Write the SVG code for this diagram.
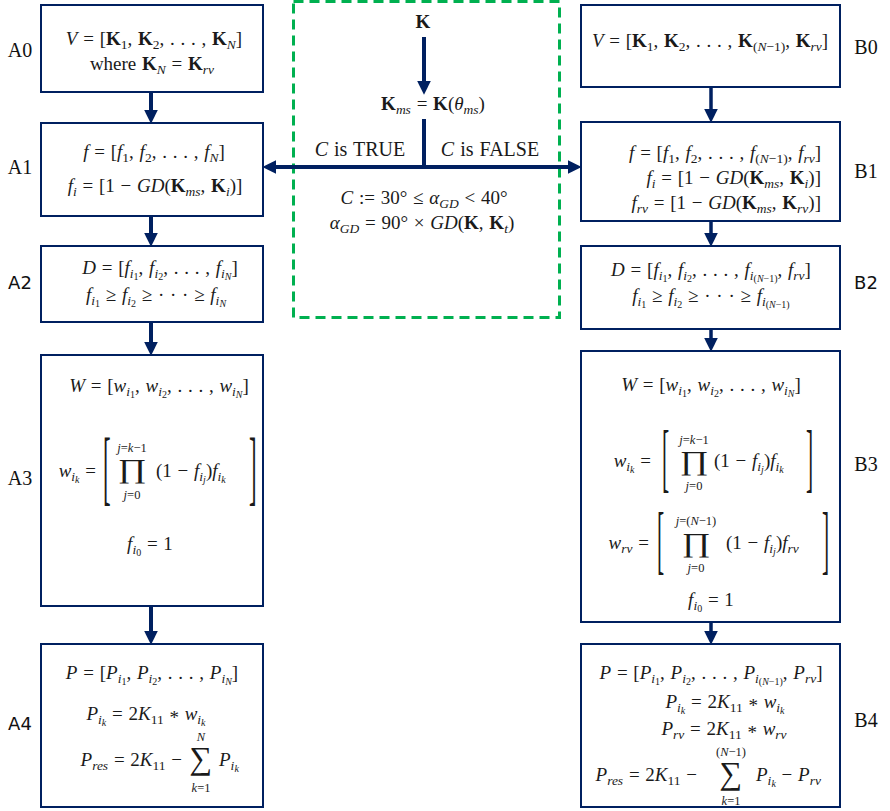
<svg xmlns="http://www.w3.org/2000/svg" width="890" height="811" viewBox="0 0 890 811">
<defs>
<style>
.box{fill:#fff;stroke:#002060;stroke-width:2}
.m{font-family:"Liberation Serif",serif;font-size:19px;fill:#1a1a1a;word-spacing:1px}
.it{font-style:italic}
.bf{font-weight:bold}
.sb{font-size:13.5px}
.ss{font-size:10px}
.lim{font-family:"Liberation Serif",serif;font-size:12.5px;fill:#1a1a1a}
.lbl{font-family:"Liberation Serif",serif;font-size:20px;fill:#111}
.lbls{font-family:"DejaVu Sans",sans-serif;font-size:18px;fill:#111}
.big{font-family:"Liberation Serif",serif;fill:#1a1a1a}
.brk{font-family:"Liberation Serif",serif;fill:#1a1a1a}
.cA{stroke:#002060;stroke-width:4;fill:none}
.cB{stroke:#002060;stroke-width:3.5;fill:none}
</style>
<marker id="ah" markerUnits="userSpaceOnUse" markerWidth="14" markerHeight="14" refX="2" refY="6" orient="auto-start-reverse" viewBox="0 0 12 12">
<path d="M0,0 L12,6 L0,12 z" fill="#002060"/>
</marker>
</defs>
<rect width="890" height="811" fill="#fff"/>

<g id="group-center">
<rect x="293.5" y="1.5" width="266" height="316" fill="none" stroke="#00b050" stroke-width="3" stroke-dasharray="10,6"/>
<text class="m bf" x="423" y="28" text-anchor="middle">K</text>
<text class="m" x="433" y="110" text-anchor="middle"><tspan class="bf">K</tspan><tspan class="sb it" dy="4">ms</tspan><tspan dy="-4"> = </tspan><tspan class="bf">K</tspan>(<tspan class="it">θ</tspan><tspan class="sb it" dy="4">ms</tspan><tspan dy="-4">)</tspan></text>
<text class="m" x="360" y="156" text-anchor="middle" style="font-size:20px"><tspan class="it">C</tspan> is TRUE</text>
<text class="m" x="490" y="156" text-anchor="middle" style="font-size:20px"><tspan class="it">C</tspan> is FALSE</text>
<text class="m" x="424" y="204" text-anchor="middle"><tspan class="it">C</tspan> := 30° ≤ <tspan class="it">α</tspan><tspan class="sb it" dy="4">GD</tspan><tspan dy="-4"> &lt; 40°</tspan></text>
<text class="m" x="422" y="229" text-anchor="middle"><tspan class="it">α</tspan><tspan class="sb it" dy="4">GD</tspan><tspan dy="-4"> = 90° × </tspan><tspan class="it">GD</tspan>(<tspan class="bf">K</tspan>, <tspan class="bf">K</tspan><tspan class="sb it" dy="4">t</tspan><tspan dy="-4">)</tspan></text>
</g>

<g id="A0">
<rect class="box" x="41" y="5" width="222" height="87"/>
<text class="lbl" x="20" y="57" text-anchor="middle">A0</text>
<text class="m" x="154" y="45" text-anchor="middle"><tspan class="it">V</tspan> = [<tspan class="bf">K</tspan><tspan class="sb" dy="4">1</tspan><tspan dy="-4">, </tspan><tspan class="bf">K</tspan><tspan class="sb" dy="4">2</tspan><tspan dy="-4">, . . . , </tspan><tspan class="bf">K</tspan><tspan class="sb it" dy="4">N</tspan><tspan dy="-4">]</tspan></text>
<text class="m" x="152" y="70" text-anchor="middle">where <tspan class="bf">K</tspan><tspan class="sb it" dy="4">N</tspan><tspan dy="-4"> = </tspan><tspan class="bf">K</tspan><tspan class="sb it" dy="4">rv</tspan></text>
</g>

<g id="A1">
<rect class="box" x="41" y="123" width="222" height="93"/>
<text class="lbl" x="20" y="174" text-anchor="middle">A1</text>
<text class="m" x="154" y="158" text-anchor="middle"><tspan class="it">f</tspan> = [<tspan class="it">f</tspan><tspan class="sb" dy="4">1</tspan><tspan dy="-4">, </tspan><tspan class="it">f</tspan><tspan class="sb" dy="4">2</tspan><tspan dy="-4">, . . . , </tspan><tspan class="it">f</tspan><tspan class="sb it" dy="4">N</tspan><tspan dy="-4">]</tspan></text>
<text class="m" x="155" y="192" text-anchor="middle"><tspan class="it">f</tspan><tspan class="sb it" dy="4">i</tspan><tspan dy="-4"> = [1 − </tspan><tspan class="it">GD</tspan>(<tspan class="bf">K</tspan><tspan class="sb it" dy="4">ms</tspan><tspan dy="-4">, </tspan><tspan class="bf">K</tspan><tspan class="sb it" dy="4">i</tspan><tspan dy="-4">)]</tspan></text>
</g>

<g id="A2">
<rect class="box" x="41" y="246" width="222" height="76"/>
<text class="lbls" x="20" y="289" text-anchor="middle">A2</text>
<text class="m" x="160" y="274" text-anchor="middle"><tspan class="it">D</tspan> = [<tspan class="it">f</tspan><tspan class="sb it" dy="4">i</tspan><tspan class="ss" dy="2">1</tspan><tspan dy="-6">, </tspan><tspan class="it">f</tspan><tspan class="sb it" dy="4">i</tspan><tspan class="ss" dy="2">2</tspan><tspan dy="-6">, . . . , </tspan><tspan class="it">f</tspan><tspan class="sb it" dy="4">i</tspan><tspan class="ss it" dy="2">N</tspan><tspan dy="-6">]</tspan></text>
<text class="m" x="156" y="301" text-anchor="middle"><tspan class="it">f</tspan><tspan class="sb it" dy="4">i</tspan><tspan class="ss" dy="2">1</tspan><tspan dy="-6"> ≥ </tspan><tspan class="it">f</tspan><tspan class="sb it" dy="4">i</tspan><tspan class="ss" dy="2">2</tspan><tspan dy="-6"> ≥ · · · ≥ </tspan><tspan class="it">f</tspan><tspan class="sb it" dy="4">i</tspan><tspan class="ss it" dy="2">N</tspan></text>
</g>

<g id="A3">
<rect class="box" x="41" y="355" width="222" height="251"/>
<text class="lbl" x="20" y="485" text-anchor="middle">A3</text>
<text class="m" x="159" y="392" text-anchor="middle"><tspan class="it">W</tspan> = [<tspan class="it">w</tspan><tspan class="sb it" dy="4">i</tspan><tspan class="ss" dy="2">1</tspan><tspan dy="-6">, </tspan><tspan class="it">w</tspan><tspan class="sb it" dy="4">i</tspan><tspan class="ss" dy="2">2</tspan><tspan dy="-6">, . . . , </tspan><tspan class="it">w</tspan><tspan class="sb it" dy="4">i</tspan><tspan class="ss it" dy="2">N</tspan><tspan dy="-6">]</tspan></text>
<text class="m" x="96" y="477" text-anchor="end"><tspan class="it">w</tspan><tspan class="sb it" dy="4">i</tspan><tspan class="ss it" dy="2">k</tspan><tspan dy="-6"> =</tspan></text>
<text class="brk" font-size="82" transform="translate(103,495) scale(0.28,1)">[</text>
<text class="brk" font-size="82" transform="translate(249,495) scale(0.28,1)">]</text>
<text class="lim" x="132" y="452" text-anchor="middle"><tspan font-style="italic">j</tspan>=<tspan font-style="italic">k</tspan>−1</text>
<text class="big" font-size="27" transform="translate(132,478) scale(1.3,1)" text-anchor="middle">∏</text>
<text class="lim" x="132" y="499" text-anchor="middle"><tspan font-style="italic">j</tspan>=0</text>
<text class="m" x="156" y="477">(1 − <tspan class="it">f</tspan><tspan class="sb it" dy="4">i</tspan><tspan class="ss it" dy="2">j</tspan><tspan dy="-6">)</tspan><tspan class="it">f</tspan><tspan class="sb it" dy="4">i</tspan><tspan class="ss it" dy="2">k</tspan></text>
<text class="m" x="150" y="550" text-anchor="middle"><tspan class="it">f</tspan><tspan class="sb it" dy="4">i</tspan><tspan class="ss" dy="2">0</tspan><tspan dy="-6"> = 1</tspan></text>
</g>

<g id="A4">
<rect class="box" x="41" y="644" width="222" height="163"/>
<text class="lbls" x="20" y="730" text-anchor="middle">A4</text>
<text class="m" x="152" y="679" text-anchor="middle"><tspan class="it">P</tspan> = [<tspan class="it">P</tspan><tspan class="sb it" dy="4">i</tspan><tspan class="ss" dy="2">1</tspan><tspan dy="-6">, </tspan><tspan class="it">P</tspan><tspan class="sb it" dy="4">i</tspan><tspan class="ss" dy="2">2</tspan><tspan dy="-6">, . . . , </tspan><tspan class="it">P</tspan><tspan class="sb it" dy="4">i</tspan><tspan class="ss it" dy="2">N</tspan><tspan dy="-6">]</tspan></text>
<text class="m" x="146" y="720" text-anchor="middle"><tspan class="it">P</tspan><tspan class="sb it" dy="4">i</tspan><tspan class="ss it" dy="2">k</tspan><tspan dy="-6"> = 2</tspan><tspan class="it">K</tspan><tspan class="sb" dy="4">11</tspan><tspan dy="0"> * </tspan><tspan class="it" dy="-4">w</tspan><tspan class="sb it" dy="4">i</tspan><tspan class="ss it" dy="2">k</tspan></text>
<text class="m" x="182" y="766" text-anchor="end"><tspan class="it">P</tspan><tspan class="sb it" dy="4">res</tspan><tspan dy="-4"> = 2</tspan><tspan class="it">K</tspan><tspan class="sb" dy="4">11</tspan><tspan dy="-4"> −</tspan></text>
<text class="lim" x="201" y="741" text-anchor="middle" font-style="italic">N</text>
<text class="big" font-size="32" x="201" y="769" text-anchor="middle">∑</text>
<text class="lim" x="201" y="792" text-anchor="middle"><tspan font-style="italic">k</tspan>=1</text>
<text class="m" x="219" y="766"><tspan class="it">P</tspan><tspan class="sb it" dy="4">i</tspan><tspan class="ss it" dy="2">k</tspan></text>
</g>

<g id="B0">
<rect class="box" x="581" y="5" width="259" height="82"/>
<text class="lbl" x="866" y="54" text-anchor="middle">B0</text>
<text class="m" x="710" y="47" text-anchor="middle"><tspan class="it">V</tspan> = [<tspan class="bf">K</tspan><tspan class="sb" dy="4">1</tspan><tspan dy="-4">, </tspan><tspan class="bf">K</tspan><tspan class="sb" dy="4">2</tspan><tspan dy="-4">, . . . , </tspan><tspan class="bf">K</tspan><tspan class="sb" dy="4">(<tspan class="it">N</tspan>−1)</tspan><tspan dy="-4">, </tspan><tspan class="bf">K</tspan><tspan class="sb it" dy="4">rv</tspan><tspan dy="-4">]</tspan></text>
</g>

<g id="B1">
<rect class="box" x="581" y="122" width="259" height="99"/>
<text class="lbl" x="866" y="178" text-anchor="middle">B1</text>
<text class="m" x="821" y="159" text-anchor="end"><tspan class="it">f</tspan> = [<tspan class="it">f</tspan><tspan class="sb" dy="4">1</tspan><tspan dy="-4">, </tspan><tspan class="it">f</tspan><tspan class="sb" dy="4">2</tspan><tspan dy="-4">, . . . , </tspan><tspan class="it">f</tspan><tspan class="sb" dy="4">(<tspan class="it">N</tspan>−1)</tspan><tspan dy="-4">, </tspan><tspan class="it">f</tspan><tspan class="sb it" dy="4">rv</tspan><tspan dy="-4">]</tspan></text>
<text class="m" x="821" y="184" text-anchor="end"><tspan class="it">f</tspan><tspan class="sb it" dy="4">i</tspan><tspan dy="-4"> = [1 − </tspan><tspan class="it">GD</tspan>(<tspan class="bf">K</tspan><tspan class="sb it" dy="4">ms</tspan><tspan dy="-4">, </tspan><tspan class="bf">K</tspan><tspan class="sb it" dy="4">i</tspan><tspan dy="-4">)]</tspan></text>
<text class="m" x="821" y="209" text-anchor="end"><tspan class="it">f</tspan><tspan class="sb it" dy="4">rv</tspan><tspan dy="-4"> = [1 − </tspan><tspan class="it">GD</tspan>(<tspan class="bf">K</tspan><tspan class="sb it" dy="4">ms</tspan><tspan dy="-4">, </tspan><tspan class="bf">K</tspan><tspan class="sb it" dy="4">rv</tspan><tspan dy="-4">)]</tspan></text>
</g>

<g id="B2">
<rect class="box" x="581" y="246" width="259" height="83"/>
<text class="lbls" x="866" y="289" text-anchor="middle">B2</text>
<text class="m" x="711" y="276" text-anchor="middle"><tspan class="it">D</tspan> = [<tspan class="it">f</tspan><tspan class="sb it" dy="4">i</tspan><tspan class="ss" dy="2">1</tspan><tspan dy="-6">, </tspan><tspan class="it">f</tspan><tspan class="sb it" dy="4">i</tspan><tspan class="ss" dy="2">2</tspan><tspan dy="-6">, . . . , </tspan><tspan class="it">f</tspan><tspan class="sb it" dy="4">i</tspan><tspan class="ss" dy="2">(<tspan class="it">N</tspan>−1)</tspan><tspan dy="-6">, </tspan><tspan class="it">f</tspan><tspan class="sb it" dy="4">rv</tspan><tspan dy="-4">]</tspan></text>
<text class="m" x="711" y="302" text-anchor="middle"><tspan class="it">f</tspan><tspan class="sb it" dy="4">i</tspan><tspan class="ss" dy="2">1</tspan><tspan dy="-6"> ≥ </tspan><tspan class="it">f</tspan><tspan class="sb it" dy="4">i</tspan><tspan class="ss" dy="2">2</tspan><tspan dy="-6"> ≥ · · · ≥ </tspan><tspan class="it">f</tspan><tspan class="sb it" dy="4">i</tspan><tspan class="ss" dy="2">(<tspan class="it">N</tspan>−1)</tspan></text>
</g>

<g id="B3">
<rect class="box" x="581" y="351" width="259" height="271"/>
<text class="lbl" x="866" y="471" text-anchor="middle">B3</text>
<text class="m" x="711" y="391" text-anchor="middle"><tspan class="it">W</tspan> = [<tspan class="it">w</tspan><tspan class="sb it" dy="4">i</tspan><tspan class="ss" dy="2">1</tspan><tspan dy="-6">, </tspan><tspan class="it">w</tspan><tspan class="sb it" dy="4">i</tspan><tspan class="ss" dy="2">2</tspan><tspan dy="-6">, . . . , </tspan><tspan class="it">w</tspan><tspan class="sb it" dy="4">i</tspan><tspan class="ss it" dy="2">N</tspan><tspan dy="-6">]</tspan></text>
<text class="m" x="651" y="467" text-anchor="end"><tspan class="it">w</tspan><tspan class="sb it" dy="4">i</tspan><tspan class="ss it" dy="2">k</tspan><tspan dy="-6"> =</tspan></text>
<text class="brk" font-size="77" transform="translate(662,483) scale(0.28,1)">[</text>
<text class="brk" font-size="77" transform="translate(806,483) scale(0.28,1)">]</text>
<text class="lim" x="694" y="444" text-anchor="middle"><tspan font-style="italic">j</tspan>=<tspan font-style="italic">k</tspan>−1</text>
<text class="big" font-size="27" transform="translate(694,470) scale(1.3,1)" text-anchor="middle">∏</text>
<text class="lim" x="694" y="490" text-anchor="middle"><tspan font-style="italic">j</tspan>=0</text>
<text class="m" x="714" y="467">(1 − <tspan class="it">f</tspan><tspan class="sb it" dy="4">i</tspan><tspan class="ss it" dy="2">j</tspan><tspan dy="-6">)</tspan><tspan class="it">f</tspan><tspan class="sb it" dy="4">i</tspan><tspan class="ss it" dy="2">k</tspan></text>
<text class="m" x="649" y="549" text-anchor="end"><tspan class="it">w</tspan><tspan class="sb it" dy="4">rv</tspan><tspan dy="-4"> =</tspan></text>
<text class="brk" font-size="77" transform="translate(657,565) scale(0.28,1)">[</text>
<text class="brk" font-size="77" transform="translate(822,565) scale(0.28,1)">]</text>
<text class="lim" x="696" y="525" text-anchor="middle"><tspan font-style="italic">j</tspan>=(<tspan font-style="italic">N</tspan>−1)</text>
<text class="big" font-size="27" transform="translate(696,552) scale(1.3,1)" text-anchor="middle">∏</text>
<text class="lim" x="696" y="572" text-anchor="middle"><tspan font-style="italic">j</tspan>=0</text>
<text class="m" x="726" y="549">(1 − <tspan class="it">f</tspan><tspan class="sb it" dy="4">i</tspan><tspan class="ss it" dy="2">j</tspan><tspan dy="-6">)</tspan><tspan class="it">f</tspan><tspan class="sb it" dy="4">rv</tspan></text>
<text class="m" x="711" y="606" text-anchor="middle"><tspan class="it">f</tspan><tspan class="sb it" dy="4">i</tspan><tspan class="ss" dy="2">0</tspan><tspan dy="-6"> = 1</tspan></text>
</g>

<g id="B4">
<rect class="box" x="581" y="644" width="259" height="163"/>
<text class="lbl" x="866" y="727" text-anchor="middle">B4</text>
<text class="m" x="711" y="679" text-anchor="middle"><tspan class="it">P</tspan> = [<tspan class="it">P</tspan><tspan class="sb it" dy="4">i</tspan><tspan class="ss" dy="2">1</tspan><tspan dy="-6">, </tspan><tspan class="it">P</tspan><tspan class="sb it" dy="4">i</tspan><tspan class="ss" dy="2">2</tspan><tspan dy="-6">, . . . , </tspan><tspan class="it">P</tspan><tspan class="sb it" dy="4">i</tspan><tspan class="ss" dy="2">(<tspan class="it">N</tspan>−1)</tspan><tspan dy="-6">, </tspan><tspan class="it">P</tspan><tspan class="sb it" dy="4">rv</tspan><tspan dy="-4">]</tspan></text>
<text class="m" x="725" y="708" text-anchor="middle"><tspan class="it">P</tspan><tspan class="sb it" dy="4">i</tspan><tspan class="ss it" dy="2">k</tspan><tspan dy="-6"> = 2</tspan><tspan class="it">K</tspan><tspan class="sb" dy="4">11</tspan><tspan dy="0"> * </tspan><tspan class="it" dy="-4">w</tspan><tspan class="sb it" dy="4">i</tspan><tspan class="ss it" dy="2">k</tspan></text>
<text class="m" x="724" y="735" text-anchor="middle"><tspan class="it">P</tspan><tspan class="sb it" dy="4">rv</tspan><tspan dy="-4"> = 2</tspan><tspan class="it">K</tspan><tspan class="sb" dy="4">11</tspan><tspan dy="0"> * </tspan><tspan class="it" dy="-4">w</tspan><tspan class="sb it" dy="4">rv</tspan></text>
<text class="m" x="697" y="781" text-anchor="end"><tspan class="it">P</tspan><tspan class="sb it" dy="4">res</tspan><tspan dy="-4"> = 2</tspan><tspan class="it">K</tspan><tspan class="sb" dy="4">11</tspan><tspan dy="-4"> −</tspan></text>
<text class="lim" x="731" y="756" text-anchor="middle">(<tspan font-style="italic">N</tspan>−1)</text>
<text class="big" font-size="32" x="731" y="784" text-anchor="middle">∑</text>
<text class="lim" x="731" y="805" text-anchor="middle"><tspan font-style="italic">k</tspan>=1</text>
<text class="m" x="756" y="781"><tspan class="it">P</tspan><tspan class="sb it" dy="4">i</tspan><tspan class="ss it" dy="2">k</tspan><tspan dy="-6"> − </tspan><tspan class="it">P</tspan><tspan class="sb it" dy="4">rv</tspan></text>
</g>

<g id="connectors">
<line class="cA" x1="151" y1="93" x2="151" y2="112" marker-end="url(#ah)"/>
<line class="cA" x1="151" y1="217" x2="151" y2="235" marker-end="url(#ah)"/>
<line class="cA" x1="151" y1="322" x2="151" y2="344" marker-end="url(#ah)"/>
<line class="cA" x1="151" y1="607" x2="151" y2="633" marker-end="url(#ah)"/>
<line class="cB" x1="711" y1="87" x2="711" y2="111" marker-end="url(#ah)"/>
<line class="cB" x1="711" y1="221" x2="711" y2="235" marker-end="url(#ah)"/>
<line class="cB" x1="711" y1="329" x2="711" y2="340" marker-end="url(#ah)"/>
<line class="cB" x1="711" y1="622" x2="711" y2="633" marker-end="url(#ah)"/>
<line class="cA" x1="424" y1="37" x2="424" y2="83" marker-end="url(#ah)"/>
<line class="cA" x1="424" y1="119" x2="424" y2="167"/>
<line class="cA" x1="274" y1="167" x2="570" y2="167" marker-start="url(#ah)" marker-end="url(#ah)"/>
</g>
</svg>
